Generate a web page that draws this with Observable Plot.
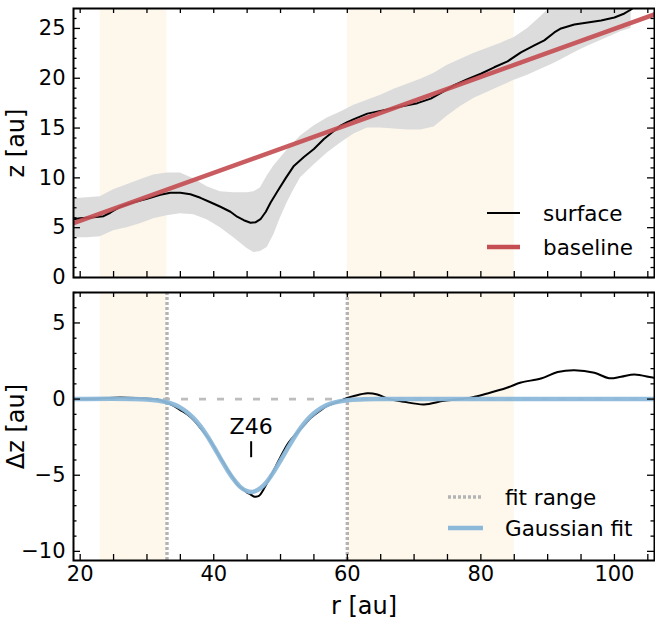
<!DOCTYPE html>
<html><head><meta charset="utf-8">
<script src="https://cdn.jsdelivr.net/npm/d3@7"></script>
<script src="https://cdn.jsdelivr.net/npm/@observablehq/plot@0.6"></script>
<style>
body{margin:0;background:#fff;font-family:"DejaVu Sans",sans-serif;}
#wrap{position:relative;width:655px;height:620px;overflow:hidden;}
#wrap svg{display:block;}
.leg{position:absolute;font-size:21.5px;display:flex;align-items:center;height:26px;color:#000;white-space:nowrap;}
.leg svg{display:block;}
</style></head><body><div id="wrap"></div>
<script>
// ---------- data ----------
const xDomain = [19, 106];
const bandA = [23, 60];
const bandB = [33, 85];
const fitRange = [33, 60];

const surfR = [19,20,22,23.5,24.5,26,28,30,32,33.5,35,36.5,38,39.5,41,42.5,43.5,44.5,45.5,46.3,47,47.8,48.5,49.5,50.8,52,53.5,55,56.5,57.8,59,60,61,63,65.5,68,70.5,72.5,74.5,76,78,80,82,84,86,88,89.5,91,92,94,96,98,100,101.5,102.5,103,104,106];
const surfZ = [5.85,5.95,6.05,6.15,6.5,7.1,7.55,7.9,8.3,8.5,8.5,8.35,8.0,7.55,7.1,6.6,6.1,5.75,5.5,5.55,5.85,6.6,7.5,8.6,10.0,11.2,12.1,12.9,13.9,14.6,15.25,15.6,15.9,16.45,16.8,17.15,17.5,17.95,18.7,19.3,19.9,20.45,21.1,21.7,22.6,23.3,23.8,24.6,25.0,25.4,25.6,25.8,26.1,26.5,26.9,27.2,27.5,27.8];

const bandR  = [19,21,23,25,27,29,31,33,35,37,39,41,43,45,46,47,48,49,50,51,52,53,55,57,59,61,63,65,67,69,71,73,75,77,79,81,83,85,87,89,91,93,95,97,99,101,102.5];
const bandHi = [7.9,8.0,8.1,8.8,9.3,9.8,10.3,10.5,10.5,9.9,9.1,8.6,8.5,8.5,8.6,9.0,10.2,11.2,12.0,12.8,13.5,14.2,15.2,16.0,16.6,17.3,17.8,18.3,18.9,19.4,19.9,20.5,21.3,21.9,22.5,23.0,23.5,24.1,25.0,26.2,27.5,28.5,29.5,30,30,30,30];
const bandLo = [4.0,4.0,4.1,4.7,5.0,5.4,5.9,6.2,6.4,6.3,5.8,5.0,4.0,2.9,2.5,2.6,3.0,4.3,6.0,7.5,8.8,10.0,11.3,12.5,13.5,14.4,15.0,15.0,14.9,14.8,14.8,15.1,16.2,17.2,18.0,18.6,19.2,19.8,20.3,20.9,21.5,22.2,22.9,23.5,24.1,24.7,25.0];

const baseR = [19, 106];
const baseZ = [5.45, 26.4];

const resR  = [19,22,26,29,31,32,33,34,35,36,37,38,39,40,40.5,41.5,42,43,43.5,44.5,45,45.5,46,46.3,46.8,47.3,48,48.5,49.3,50,51,51.5,52.5,53.5,54.5,56,57,58.5,60,61,63,64.5,66,68.5,71.5,74.5,78,81,84,86,89,91.5,94,97,99.2,101,103,105.5,106];
const resDz = [0,0.02,0.1,0.05,0,-0.08,-0.24,-0.45,-0.72,-1.0,-1.38,-1.9,-2.45,-3.1,-3.5,-4.2,-4.6,-5.25,-5.6,-5.95,-6.15,-6.25,-6.4,-6.42,-6.35,-6.05,-5.5,-5.1,-4.4,-3.8,-3.0,-2.7,-2.2,-1.73,-1.25,-0.74,-0.45,-0.2,0.07,0.2,0.38,0.3,0.04,-0.18,-0.35,-0.11,0.05,0.37,0.76,1.09,1.35,1.78,1.9,1.73,1.37,1.47,1.62,1.43,1.4];

const fitR  = [19,30,33,34,35,36,37,38,39,40,41,42,43,44,45,45.6,46,47,48,49,50,51,52,53,54,55,56,57,58,60,62,65,106];
const fitDz = [0,-0.03,-0.21,-0.35,-0.56,-0.86,-1.26,-1.78,-2.41,-3.13,-3.89,-4.63,-5.28,-5.78,-6.05,-6.1,-6.08,-5.85,-5.4,-4.77,-4.04,-3.28,-2.55,-1.9,-1.36,-0.93,-0.61,-0.38,-0.23,-0.07,-0.02,0,0];

const gapLabel = "Z46";
const gapR = 45.6;
const gapLabelDz = -1.8;
const gapMarkDz = [-2.8, -3.85];

const xTickLabels = [20,40,60,80,100];
const xTicks = [20,25,30,35,40,45,50,55,60,65,70,75,80,85,90,95,100,105];
const topYLabels = [0,5,10,15,20,25];
const topYMinor = [1,2,3,4,6,7,8,9,11,12,13,14,16,17,18,19,21,22,23,24,26];
const botYLabels = [-10,-5,0,5];
const botYMinor = [-9,-8,-7,-6,-4,-3,-2,-1,1,2,3,4,6,7];

// ---------- tables ----------
const bands = bandA.map((a,i)=>({a, b: bandB[i]}));
const surf = surfR.map((r,i)=>({r, z: surfZ[i]}));
const band = bandR.map((r,i)=>({r, hi: bandHi[i], lo: bandLo[i]}));
const base = baseR.map((r,i)=>({r, z: baseZ[i]}));
const res = resR.map((r,i)=>({r, dz: resDz[i]}));
const fit = fitR.map((r,i)=>({r, dz: fitDz[i]}));

// ---------- layout ----------
const W = 655, ML = 73, MR = 1;
const PW = W - ML - MR;
const TOP = {h: 285, mt: 8, mb: 8};
const BOT = {h: 335, mt: 7, mb: 60};
const TOP_PH = TOP.h - TOP.mt - TOP.mb;
const BOT_PH = BOT.h - BOT.mt - BOT.mb;
const ORANGE = "#fef7ec", GRAY = "#dcdcdc", RED = "#c44e52", BLUE = "#8cb8d9", DOT = "#b4b4b4";

function tickMarks(ph, yMaj, yMin) {
  const s = {stroke: "black", strokeWidth: 1.3};
  return [
    Plot.tickX(xTicks, {x: d=>d, insetTop: ph - 6, ...s}),
    Plot.tickX(xTicks, {x: d=>d, insetBottom: ph - 5, ...s}),
    Plot.tickY(yMaj, {y: d=>d, insetRight: PW - 7, ...s}),
    Plot.tickY(yMaj, {y: d=>d, insetLeft: PW - 7, ...s}),
    Plot.tickY(yMin, {y: d=>d, insetRight: PW - 3.5, ...s}),
    Plot.tickY(yMin, {y: d=>d, insetLeft: PW - 3.5, ...s})
  ];
}
const style = {fontFamily: "DejaVu Sans", fontSize: "21px", background: "transparent", color: "black", overflow: "visible"};

const topPlot = Plot.plot({
  width: W, height: TOP.h, marginLeft: ML, marginRight: MR, marginTop: TOP.mt, marginBottom: TOP.mb,
  style,
  x: {domain: xDomain, axis: null},
  y: {domain: [0, 27]},
  marks: [
    Plot.rect(bands, {x1: "a", x2: "b", fill: ORANGE}),
    Plot.areaY(band, {x: "r", y1: "lo", y2: "hi", fill: GRAY, clip: true}),
    Plot.line(surf, {x: "r", y: "z", stroke: "black", strokeWidth: 2, clip: true}),
    Plot.line(base, {x: "r", y: "z", stroke: RED, strokeWidth: 4.5, strokeOpacity: 0.92, clip: true}),
    ...tickMarks(TOP_PH, topYLabels, topYMinor),
    Plot.axisY({ticks: topYLabels, tickSize: 0, tickPadding: 8, label: "z [au]", labelAnchor: "center", labelArrow: "none", labelOffset: 67}),
    Plot.frame({stroke: "black", strokeWidth: 2})
  ]
});

const botPlot = Plot.plot({
  width: W, height: BOT.h, marginLeft: ML, marginRight: MR, marginTop: BOT.mt, marginBottom: BOT.mb,
  style,
  x: {domain: xDomain},
  y: {domain: [-10.6, 7]},
  marks: [
    Plot.rect(bands, {x1: "a", x2: "b", fill: ORANGE}),
    Plot.ruleY([0], {stroke: "#bdbdbd", strokeWidth: 2.8, strokeDasharray: "7,11"}),
    Plot.ruleX(fitRange, {stroke: DOT, strokeWidth: 3.4, strokeDasharray: "3,2"}),
    Plot.line(res, {x: "r", y: "dz", stroke: "black", strokeWidth: 2, curve: "catmull-rom", clip: true}),
    Plot.line(fit, {x: "r", y: "dz", stroke: BLUE, strokeWidth: 4.5, strokeOpacity: 0.95, curve: "catmull-rom", clip: true}),
    Plot.text([gapLabel], {x: gapR, y: gapLabelDz, text: d=>d, fontSize: 22, fill: "black"}),
    Plot.ruleX([gapR], {y1: gapMarkDz[0], y2: gapMarkDz[1], stroke: "black", strokeWidth: 2}),
    ...tickMarks(BOT_PH, botYLabels, botYMinor),
    Plot.axisX({ticks: xTickLabels, tickSize: 0, tickPadding: 6, label: "r [au]", labelAnchor: "center", labelArrow: "none", labelOffset: 53}),
    Plot.axisY({ticks: botYLabels, tickSize: 0, tickPadding: 8, label: "Δz [au]", labelAnchor: "center", labelArrow: "none", labelOffset: 67}),
    Plot.frame({stroke: "black", strokeWidth: 2})
  ]
});

// enlarge the axis titles
for (const svg of [topPlot, botPlot]) {
  d3.select(svg).selectAll('g[aria-label="x-axis label"], g[aria-label="y-axis label"]').attr("font-size", 24);
}

const wrap = document.getElementById("wrap");
wrap.appendChild(topPlot);
wrap.appendChild(botPlot);

// ---------- legends ----------
function legendItem(x0, yc, len, gap, lineStyle, label) {
  const d = document.createElement("div");
  d.className = "leg";
  d.style.left = x0 + "px";
  d.style.top = (yc - 13) + "px";
  d.innerHTML = `<svg width="${len}" height="26"><line x1="0" x2="${len}" y1="13" y2="13" ${lineStyle}/></svg><span style="margin-left:${gap}px">${label}</span>`;
  wrap.appendChild(d);
}
legendItem(487, 213, 33, 23, `stroke="black" stroke-width="2"`, "surface");
legendItem(487, 247, 33, 23, `stroke="${RED}" stroke-width="4.5"`, "baseline");
legendItem(448, 497, 35, 22, `stroke="${DOT}" stroke-width="3.4" stroke-dasharray="3,2"`, "fit range");
legendItem(448, 528, 35, 22, `stroke="${BLUE}" stroke-width="4.5"`, "Gaussian fit");
</script>
</body></html>
